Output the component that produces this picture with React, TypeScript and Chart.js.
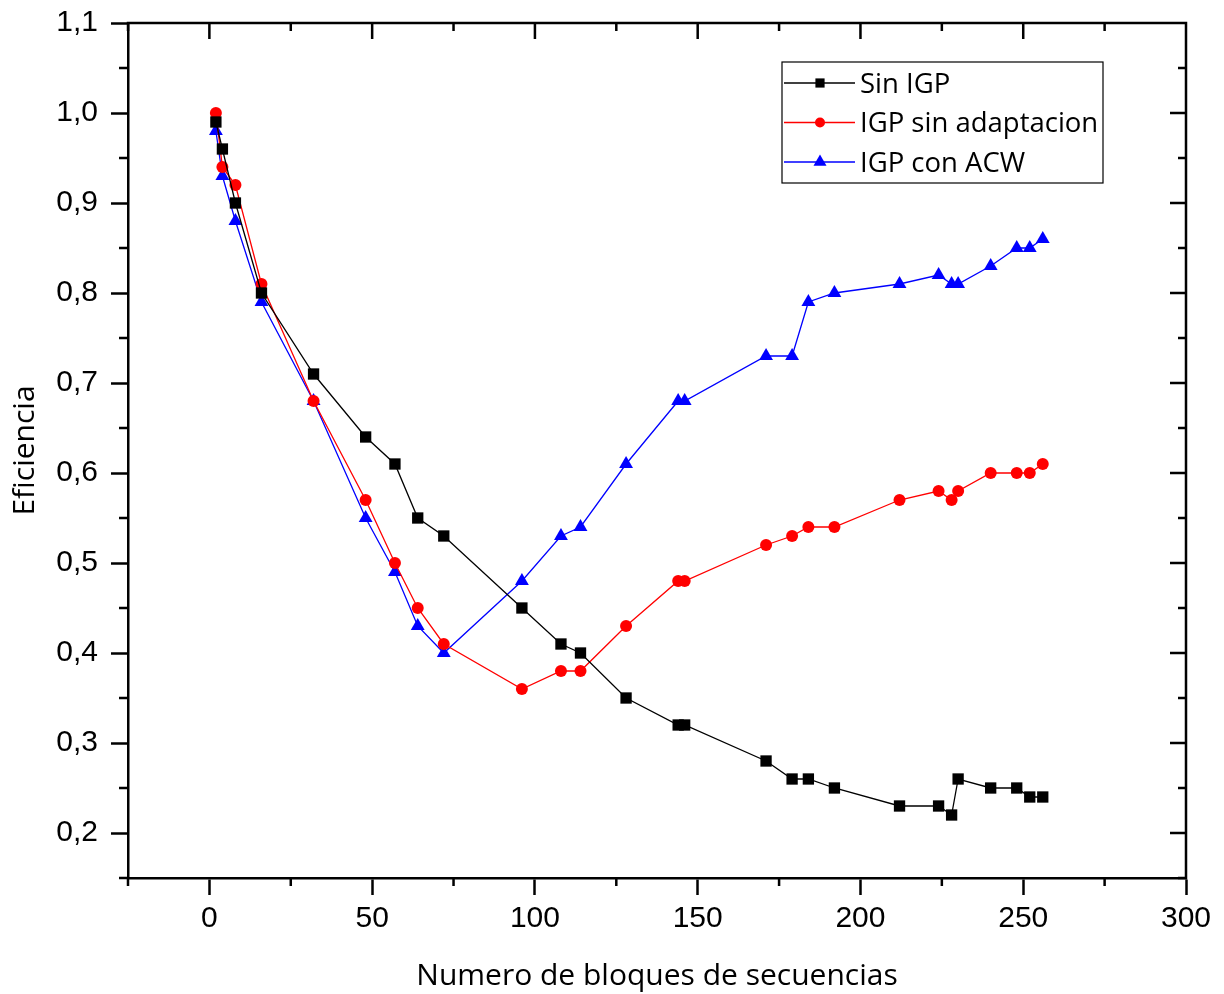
import React, { useEffect, useRef } from 'react';
import { Chart, registerables } from 'chart.js';

Chart.register(...registerables);

// ---- data ----
const blocks = [2, 4, 8, 16, 32, 48, 57, 64, 72, 96, 108, 114, 128, 144, 146, 171, 179, 184, 192, 212, 224, 228, 230, 240, 248, 252, 256];
const sinIGP = [0.99, 0.96, 0.90, 0.80, 0.71, 0.64, 0.61, 0.55, 0.53, 0.45, 0.41, 0.40, 0.35, 0.32, 0.32, 0.28, 0.26, 0.26, 0.25, 0.23, 0.23, 0.22, 0.26, 0.25, 0.25, 0.24, 0.24];
const igpSinAdaptacion = [1.00, 0.94, 0.92, 0.81, 0.68, 0.57, 0.50, 0.45, 0.41, 0.36, 0.38, 0.38, 0.43, 0.48, 0.48, 0.52, 0.53, 0.54, 0.54, 0.57, 0.58, 0.57, 0.58, 0.60, 0.60, 0.60, 0.61];
const igpConACW = [0.98, 0.93, 0.88, 0.79, 0.68, 0.55, 0.49, 0.43, 0.40, 0.48, 0.53, 0.54, 0.61, 0.68, 0.68, 0.73, 0.73, 0.79, 0.80, 0.81, 0.82, 0.81, 0.81, 0.83, 0.85, 0.85, 0.86];

const seriesNames = ['Sin IGP', 'IGP sin adaptacion', 'IGP con ACW'];

const xMajorTicks = [0, 50, 100, 150, 200, 250, 300];
const xMinorTicks = [-25, 25, 75, 125, 175, 225, 275];
const yMajorTicks = [0.2, 0.3, 0.4, 0.5, 0.6, 0.7, 0.8, 0.9, 1.0, 1.1];
const yMinorTicks = [0.15, 0.25, 0.35, 0.45, 0.55, 0.65, 0.75, 0.85, 0.95, 1.05];

const xTitle = 'Numero de bloques de secuencias';
const yTitle = 'Eficiencia';

const W = 1224;
const H = 994;

function drawMarker(ctx: CanvasRenderingContext2D, style: string, x: number, y: number, r: number, color: string) {
  ctx.fillStyle = color;
  ctx.beginPath();
  if (style === 'rect') {
    const s = r * Math.SQRT1_2;
    ctx.rect(x - s, y - s, 2 * s, 2 * s);
  } else if (style === 'triangle') {
    ctx.moveTo(x - Math.sin(Math.PI / 3) * r, y + r / 2);
    ctx.lineTo(x + Math.sin(Math.PI / 3) * r, y + r / 2);
    ctx.lineTo(x, y - r);
    ctx.closePath();
  } else {
    ctx.arc(x, y, r, 0, Math.PI * 2);
  }
  ctx.fill();
}

const framePlugin = {
  id: 'frameTicks',
  afterDraw(chart: any) {
    const { ctx, chartArea } = chart;
    const xs = chart.scales.x;
    const ys = chart.scales.y;
    const { left, right, top, bottom } = chartArea;
    ctx.save();
    ctx.strokeStyle = '#000';
    ctx.lineWidth = 2.5;
    ctx.lineCap = 'butt';
    ctx.beginPath();
    // top and right frame
    ctx.moveTo(left - 1.25, top);
    ctx.lineTo(right, top);
    ctx.lineTo(right, bottom + 1.25);
    // top ticks (inward)
    xMajorTicks.forEach((v) => {
      const px = xs.getPixelForValue(v);
      ctx.moveTo(px, top);
      ctx.lineTo(px, top + 16);
    });
    xMinorTicks.forEach((v) => {
      const px = xs.getPixelForValue(v);
      ctx.moveTo(px, top);
      ctx.lineTo(px, top + 8);
      // bottom minor (outward)
      ctx.moveTo(px, bottom);
      ctx.lineTo(px, bottom + 8);
    });
    // right ticks (inward)
    yMajorTicks.forEach((v) => {
      const py = ys.getPixelForValue(v);
      ctx.moveTo(right, py);
      ctx.lineTo(right - 16, py);
    });
    yMinorTicks.forEach((v) => {
      const py = ys.getPixelForValue(v);
      ctx.moveTo(right, py);
      ctx.lineTo(right - 8, py);
      // left minor (outward)
      ctx.moveTo(left, py);
      ctx.lineTo(left - 9, py);
    });
    ctx.stroke();

    // legend box
    const lx = 782, ly = 62, lw = 321, lh = 121;
    ctx.fillStyle = '#fff';
    ctx.fillRect(lx, ly, lw, lh);
    ctx.lineWidth = 1.2;
    ctx.strokeStyle = '#000';
    ctx.strokeRect(lx, ly, lw, lh);
    const legendSizes = [6.5, 5, 7.5];
    chart.data.datasets.forEach((ds: any, i: number) => {
      const cy = ly + 21 + i * 39.5;
      ctx.strokeStyle = ds.borderColor;
      ctx.lineWidth = 1.3;
      ctx.beginPath();
      ctx.moveTo(lx + 2, cy);
      ctx.lineTo(lx + 73, cy);
      ctx.stroke();
      drawMarker(ctx, ds.pointStyle, lx + 38, cy, legendSizes[i], ds.borderColor);
      ctx.fillStyle = '#000';
      ctx.font = '27.5px "Open Sans"';
      ctx.textAlign = 'left';
      ctx.textBaseline = 'middle';
      ctx.fillText(ds.label, lx + 78, cy + 2);
    });
    ctx.restore();
  },
};

export default function App() {
  const ref = useRef<HTMLCanvasElement | null>(null);
  useEffect(() => {
    if (!ref.current) return;
    const mk = (vals: number[]) => blocks.map((b, i) => ({ x: b, y: vals[i] }));
    const chart = new Chart(ref.current, {
      type: 'line',
      data: {
        datasets: [
          {
            label: seriesNames[0],
            data: mk(sinIGP),
            borderColor: '#000000',
            backgroundColor: '#000000',
            borderWidth: 1.3,
            pointStyle: 'rect',
            pointRadius: 8,
            pointBorderWidth: 0,
            tension: 0,
          },
          {
            label: seriesNames[1],
            data: mk(igpSinAdaptacion),
            borderColor: '#ff0000',
            backgroundColor: '#ff0000',
            borderWidth: 1.3,
            pointStyle: 'circle',
            pointRadius: 6,
            pointBorderWidth: 0,
            tension: 0,
          },
          {
            label: seriesNames[2],
            data: mk(igpConACW),
            borderColor: '#0000ff',
            backgroundColor: '#0000ff',
            borderWidth: 1.3,
            pointStyle: 'triangle',
            pointRadius: 8,
            pointBorderWidth: 0,
            tension: 0,
          },
        ],
      },
      options: {
        animation: false,
        responsive: false,
        maintainAspectRatio: false,
        layout: { padding: { top: 23, right: 38, left: 0, bottom: 0 } },
        plugins: { legend: { display: false }, tooltip: { enabled: false } },
        scales: {
          x: {
            type: 'linear',
            min: -25,
            max: 300,
            afterBuildTicks: (s: any) => {
              s.ticks = xMajorTicks.map((v) => ({ value: v }));
            },
            afterFit: (s: any) => {
              s.height = 116;
              s.paddingLeft = 0;
              s.paddingRight = 0;
            },
            ticks: {
              autoSkip: false,
              maxRotation: 0,
              padding: 6,
              color: '#000',
              font: { family: '"Liberation Sans", Arial', size: 30 },
              callback: (v: any) => String(v),
            },
            grid: { drawOnChartArea: false, drawTicks: true, tickLength: 17, tickWidth: 2.5, tickColor: '#000', color: '#000' },
            border: { display: true, color: '#000', width: 2.5 },
            title: {
              display: true,
              text: xTitle,
              color: '#000',
              font: { family: '"Open Sans"', size: 30, lineHeight: 1 },
              padding: { top: 0, bottom: 3 },
            },
          },
          y: {
            type: 'linear',
            min: 0.15,
            max: 1.1,
            afterBuildTicks: (s: any) => {
              s.ticks = yMajorTicks.map((v) => ({ value: v }));
            },
            afterFit: (s: any) => {
              s.width = 128;
              s.paddingTop = 0;
              s.paddingBottom = 0;
            },
            ticks: {
              autoSkip: false,
              padding: 13,
              color: '#000',
              font: { family: '"Liberation Sans", Arial', size: 30 },
              callback: (v: any) => Number(v).toFixed(1).replace('.', ','),
            },
            grid: { drawOnChartArea: false, drawTicks: true, tickLength: 17, tickWidth: 2.5, tickColor: '#000', color: '#000' },
            border: { display: true, color: '#000', width: 2.5 },
            title: {
              display: true,
              text: yTitle,
              color: '#000',
              font: { family: '"Open Sans"', size: 30, lineHeight: 1 },
              padding: { top: 10, bottom: 0 },
            },
          },
        },
      },
      plugins: [framePlugin],
    });
    return () => chart.destroy();
  }, []);
  return (
    <div style={{ position: 'absolute', left: 0, top: 0, width: W, height: H, background: '#fff' }}>
      <canvas ref={ref} width={W} height={H} style={{ display: 'block', width: W, height: H }} />
    </div>
  );
}
